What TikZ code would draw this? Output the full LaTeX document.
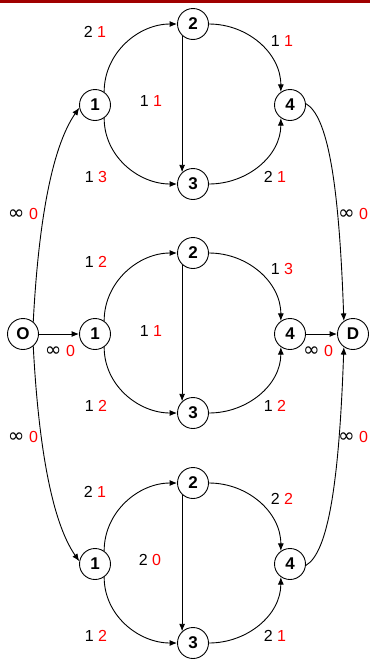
\documentclass[tikz,border=0pt]{standalone}
\usepackage{fontspec}
\setmainfont{Liberation Sans}
\newfontfamily\symf{DejaVu Sans}
\usetikzlibrary{arrows.meta}
\definecolor{barred}{HTML}{A00000}
\definecolor{lblred}{HTML}{FF0000}
\newcommand{\lb}[2]{#1 \textcolor{lblred}{#2}}
\newcommand{\inflb}{{\symf\fontsize{20}{20}\selectfont ∞} \textcolor{lblred}{0}}
\begin{document}
\begin{tikzpicture}[x=1pt,y=-1pt,
  nd/.style={circle,draw,line width=0.9pt,minimum size=31pt,inner sep=0pt,
    font=\fontsize{17}{17}\selectfont\bfseries},
  arr/.style={line width=0.9pt,-{Latex[length=7.5pt,width=6pt]}},
  lab/.style={font=\fontsize{16}{16}\selectfont,inner sep=0pt}]
\useasboundingbox (0,0) rectangle (370,659);
\fill[barred] (0,0) rectangle (370,2.5);

% top block
\node[nd] (t1) at (95,105) {1};
\node[nd] (t2) at (193,24) {2};
\node[nd] (t3) at (193,184) {3};
\node[nd] (t4) at (290,105) {4};
% middle block
\node[nd] (O) at (23,334) {O};
\node[nd] (m1) at (95,334) {1};
\node[nd] (m2) at (193,253) {2};
\node[nd] (m3) at (193,413) {3};
\node[nd] (m4) at (290,334) {4};
\node[nd] (D) at (353,334) {D};
% bottom block
\node[nd] (b1) at (95,564) {1};
\node[nd] (b2) at (193,483) {2};
\node[nd] (b3) at (193,643) {3};
\node[nd] (b4) at (290,564) {4};

% block edges
\foreach \p in {t,m,b}{
  \draw[arr] (\p1.55) to[out=90,in=180] (\p2.west);
  \draw[arr] (\p2.east) to[out=0,in=90] (\p4.125);
  \draw[arr] (\p1.-55) to[out=-90,in=180] (\p3.west);
  \draw[arr] (\p3.east) to[out=0,in=-90] (\p4.-125);
  \draw[arr] (\p2.-133) -- (\p3.133);
}
% middle straight edges
\draw[arr] (O) -- (m1);
\draw[arr] (m4) -- (D);
% outer curves
\draw[arr] (O.50) to[out=87,in=235,out distance=93pt,in distance=50pt] (t1.190);
\draw[arr] (O.-50) to[out=-87,in=125,out distance=93pt,in distance=50pt] (b1.170);
\draw[arr] (t4.5) to[out=-30,in=92,out distance=25pt,in distance=140pt] (D.125);
\draw[arr] (b4.-5) to[out=30,in=-92,out distance=25pt,in distance=140pt] (D.-125);

% labels top
\node[lab] (lt12) at (95,32) {\lb{2}{1}};
\node[lab] (lt24) at (282,41) {\lb{1}{1}};
\node[lab] (lt23) at (151,101) {\lb{1}{1}};
\node[lab] (lt13) at (96,177) {\lb{1}{3}};
\node[lab] (lt34) at (275,177) {\lb{2}{1}};
\node[lab] (lot) at (23,214) {\inflb};
\node[lab] (ldt) at (353,214) {\inflb};
% labels middle
\node[lab] (lm12) at (96,262) {\lb{1}{2}};
\node[lab] (lm24) at (282,269) {\lb{1}{3}};
\node[lab] (lm23) at (151,331) {\lb{1}{1}};
\node[lab] (lom) at (60,351) {\inflb};
\node[lab] (ldm) at (318,351) {\inflb};
\node[lab] (lm13) at (96,406) {\lb{1}{2}};
\node[lab] (lm34) at (275,406) {\lb{1}{2}};
\node[lab] (lob) at (23,437) {\inflb};
\node[lab] (ldb) at (353,437) {\inflb};
% labels bottom
\node[lab] (lb12) at (95,492) {\lb{2}{1}};
\node[lab] (lb24) at (282,499) {\lb{2}{2}};
\node[lab] (lb23) at (150,560) {\lb{2}{0}};
\node[lab] (lb13) at (96,636) {\lb{1}{2}};
\node[lab] (lb34) at (275,636) {\lb{2}{1}};
\end{tikzpicture}
\end{document}
